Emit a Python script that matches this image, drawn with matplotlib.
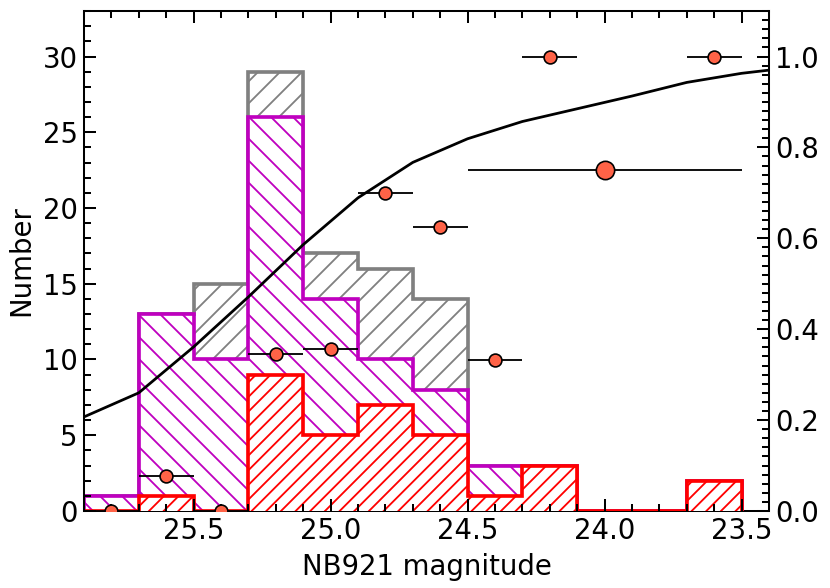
import matplotlib
matplotlib.use("Agg")
import matplotlib.pyplot as plt
from matplotlib.ticker import MultipleLocator

# histogram bins in NB921 magnitude
bin_edges = [25.9, 25.7, 25.5, 25.3, 25.1, 24.9, 24.7, 24.5, 24.3, 24.1, 23.9, 23.7, 23.5]
n_all = [1, 13, 15, 29, 17, 16, 14, 3, 3, 0, 0, 2]
n_mid = [1, 13, 10, 26, 14, 10, 8, 3, 3, 0, 0, 2]
n_red = [0, 1, 0, 9, 5, 7, 5, 1, 3, 0, 0, 2]

# completeness curve (right axis)
curve_mag = [25.9, 25.7, 25.5, 25.3, 25.1, 24.9, 24.7, 24.5, 24.3, 24.1, 23.9, 23.7, 23.5, 23.4]
curve_frac = [0.207, 0.260, 0.361, 0.471, 0.586, 0.689, 0.767, 0.819, 0.857, 0.885, 0.913, 0.943, 0.963, 0.970]

# fraction points (right axis)
pt_mag = [25.8, 25.6, 25.4, 25.2, 25.0, 24.8, 24.6, 24.4, 24.2, 23.6]
pt_frac = [0.0, 0.077, 0.0, 0.346, 0.357, 0.70, 0.625, 0.333, 1.0, 1.0]
pt_err = 0.1
big_mag = [24.0]
big_frac = [0.75]
big_err = 0.5

plt.rcParams['font.family'] = ['DejaVu Sans']
plt.rcParams['hatch.linewidth'] = 1.0

fig = plt.figure(figsize=(830 / 132, 588 / 132), dpi=132)
ax = fig.add_axes([0.1012, 0.131, 0.8253, 0.8502])

# white fill so each histogram hides the hatching of the one below
ax.stairs(n_all, bin_edges, fill=True, facecolor='white', edgecolor='gray',
          hatch='//', lw=2.0)
ax.stairs(n_mid, bin_edges, fill=True, facecolor='white', edgecolor='m',
          hatch='\\\\', lw=2.0)
ax.stairs(n_red, bin_edges, fill=True, facecolor='white', edgecolor='r',
          hatch='///', lw=2.0)
ax.spines['bottom'].set_zorder(0.5)  # red baseline sits on top of the spine

ax.set_xlim(25.9, 23.4)
ax.set_ylim(0, 33)
ax.set_xlabel('NB921 magnitude', fontsize=15)
ax.set_ylabel('Number', fontsize=15)
ax.xaxis.set_major_locator(MultipleLocator(0.5))
ax.xaxis.set_minor_locator(MultipleLocator(0.1))
ax.yaxis.set_major_locator(MultipleLocator(5))
ax.yaxis.set_minor_locator(MultipleLocator(1))
ax.tick_params(which='both', direction='in', top=True, width=1.1, labelsize=15)
ax.tick_params(which='major', length=6.5)
ax.tick_params(which='minor', length=3.8)

ax2 = ax.twinx()
ax2.plot(curve_mag, curve_frac, color='k', lw=1.5)
ax2.errorbar(pt_mag, pt_frac, xerr=pt_err, fmt='o', color='k', mfc='tomato',
             mec='k', mew=0.9, ms=7, elinewidth=1.0, capsize=0)
ax2.errorbar(big_mag, big_frac, xerr=big_err, fmt='o', color='k', mfc='tomato',
             mec='k', mew=0.9, ms=10, elinewidth=1.0, capsize=0)
ax2.set_ylim(0, 1.1)
ax2.yaxis.set_major_locator(MultipleLocator(0.2))
ax2.yaxis.set_minor_locator(MultipleLocator(0.02))
ax2.tick_params(which='both', direction='in', width=1.1, labelsize=15)
ax2.tick_params(which='major', length=6.5)
ax2.tick_params(which='minor', length=3.8)

for a in (ax, ax2):
    for s in a.spines.values():
        s.set_linewidth(1.1)
ax2.spines['bottom'].set_visible(False)

fig.savefig('out.png', dpi=132)
